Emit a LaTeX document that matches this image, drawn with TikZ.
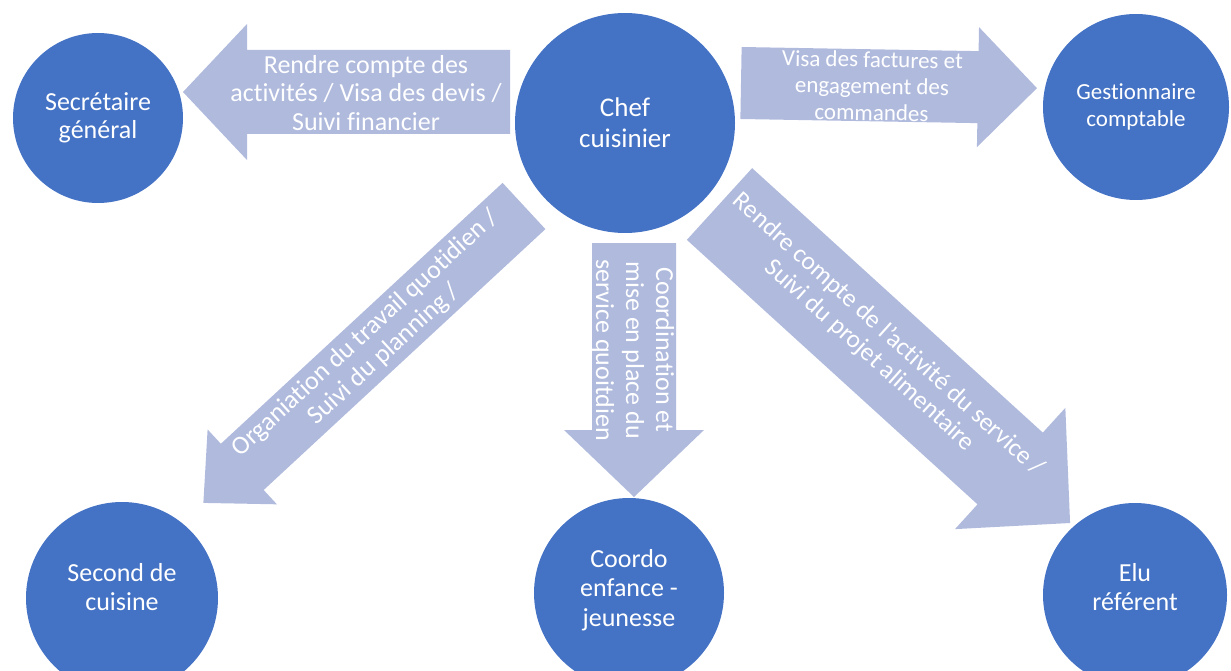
\documentclass[tikz,border=0pt]{standalone}
\usepackage{fontspec}
\setmainfont{Carlito}[Ligatures=NoCommon]
\definecolor{bubblue}{HTML}{4472C4}
\definecolor{arrblue}{HTML}{AFBADD}
\tikzset{
  bub/.style={circle, fill=bubblue, draw=none, inner sep=0pt},
  lbl/.style={text=white, align=center, inner sep=0pt},
  arrfill/.style={fill=arrblue, draw=none},
  big/.style={font=\fontsize{26pt}{28.5pt}\selectfont},
}
% name, x, y, angle, shaft length, shaft half width, head half width, head length
\newcommand\blockarr[8]{%
  \begin{scope}[shift={(#2,#3)}, rotate=#4]
    \fill[arrfill] (0,-#6) -- (#5,-#6) -- (#5,-#7) -- ({#5+#8},0) -- (#5,#7) -- (#5,#6) -- (0,#6) -- cycle;
    \coordinate (#1-tail) at (0,0);
    \coordinate (#1-tip) at ({#5+#8},0);
  \end{scope}}
\begin{document}
\begin{tikzpicture}[x=1pt,y=1pt]
\useasboundingbox (0,0) rectangle (1231,-671);

% block arrows
\blockarr{aleft}{510}{-92}{180}{263}{42}{68}{64}
\blockarr{aright}{741}{-83}{-1}{237}{36}{60}{59}
\blockarr{adown}{634}{-243}{-90}{187}{42}{70}{67}
\blockarr{adl}{524}{-206}{222.8}{384}{31.5}{51}{53}
\blockarr{adr}{719.5}{-204}{-42.3}{393}{48.5}{82}{81}

% arrow labels
\node[lbl, big] (tleft) at (366,-93) {Rendre compte des\\activités / Visa des devis /\\Suivi financier};
\node[lbl, font=\fontsize{23pt}{26.5pt}\selectfont, rotate=-1] (tright) at (872,-86) {Visa des factures et\\engagement des\\commandes};
\node[lbl, font=\fontsize{26pt}{30pt}\selectfont, rotate=-90] (tdown) at (633,-350) {Coordination et\\mise en place du\\service quoitdien};
\node[lbl, font=\fontsize{26pt}{28pt}\selectfont, rotate=42.5] (tdl) at (375,-344) {Organiation du travail quotidien /\\Suivi du planning /};
\node[lbl, font=\fontsize{25.5pt}{28pt}\selectfont, rotate=-42] (tdr) at (879,-345) {Rendre compte de l'activité du service /\\Suivi du projet alimentaire};

% circles
\node[bub, minimum size=220pt, text=white, align=center, font=\fontsize{27pt}{31pt}\selectfont] (chef) at (625,-123) {Chef\\cuisinier};
\node[bub, minimum size=170pt, text=white, align=center, big] (sec) at (98,-118) {Secrétaire\\général};
\node[bub, minimum size=186pt, text=white, align=center, font=\fontsize{23pt}{27pt}\selectfont] (gest) at (1136,-107) {Gestionnaire\\comptable};
\node[bub, minimum size=192pt] (second) at (122,-598) {};
\node[bub, minimum size=190pt] (coordo) at (629,-593) {};
\node[bub, minimum size=184pt] (elu) at (1135,-595) {};
\node[lbl, big] (second-t) at (122,-587) {Second de\\cuisine};
\node[lbl, font=\fontsize{26pt}{29.5pt}\selectfont] (coordo-t) at (629,-590) {Coordo\\enfance -\\jeunesse};
\node[lbl, big] (elu-t) at (1135,-587) {Elu\\référent};
\end{tikzpicture}
\end{document}
